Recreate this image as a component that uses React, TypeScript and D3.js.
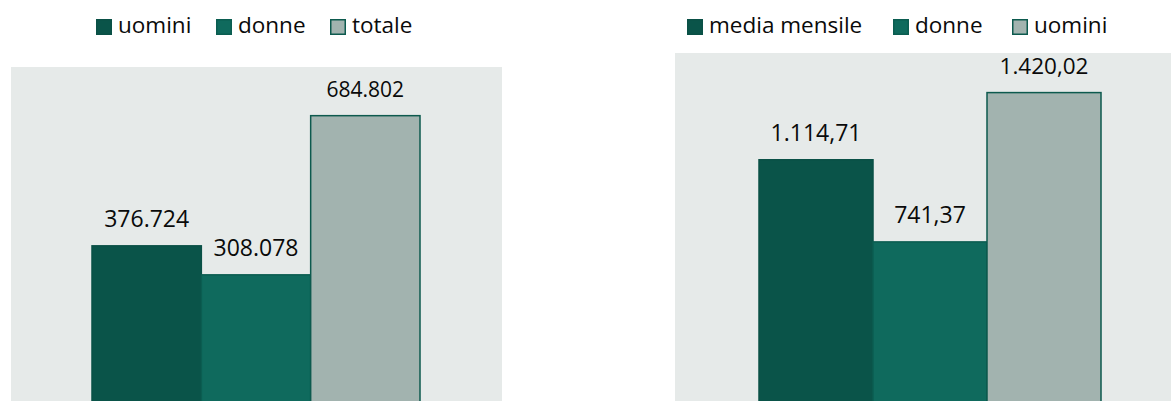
import React from "react";
import * as d3 from "d3";

const leftCategories = ["uomini", "donne", "totale"];
const leftValues = [376724, 308078, 684802];
const leftLabels = ["376.724", "308.078", "684.802"];

const rightCategories = ["media mensile", "donne", "uomini"];
const rightValues = [1114.71, 741.37, 1420.02];
const rightLabels = ["1.114,71", "741,37", "1.420,02"];

const colors = ["#0a5449", "#0f6a5d", "#a2b3af"];
const strokes = ["#0a5046", "#0b5d51", "#0d5a4e"];
const BG = "#e6eae9";
const FONT = "'Open Sans', 'Noto Sans', sans-serif";

type PanelProps = {
  cats: string[];
  vals: number[];
  labels: string[];
  yMax: number;
  plot: { x0: number; x1: number; y0: number; y1: number };
  bars: [number, number];
  legendX: number[];
  labelSizes: number[];
};

function Panel({ cats, vals, labels, yMax, plot, bars, legendX, labelSizes }: PanelProps) {
  const x = d3.scaleBand<string>().domain(cats).range(bars).padding(0);
  const y = d3.scaleLinear().domain([0, yMax]).range([plot.y1, plot.y0]);
  return (
    <g>
      <rect x={plot.x0} y={plot.y0} width={plot.x1 - plot.x0} height={plot.y1 - plot.y0} fill={BG} />
      {cats.map((c, i) => (
        <rect
          key={c}
          x={x(c)!}
          y={y(vals[i])}
          width={x.bandwidth()}
          height={y(0) - y(vals[i])}
          fill={colors[i]}
          stroke={strokes[i]}
          strokeWidth={1.5}
        />
      ))}
      {cats.map((c, i) => (
        <text
          key={"l" + c}
          x={x(c)! + x.bandwidth() / 2}
          y={y(vals[i]) - 19}
          textAnchor="middle"
          fontFamily={FONT}
          fontSize={labelSizes[i]}
          fill="#0a0a0a"
        >
          {labels[i]}
        </text>
      ))}
      {cats.map((c, i) => (
        <g key={"g" + c} transform={`translate(${legendX[i]},0)`}>
          <rect x={0.75} y={19.75} width={14.5} height={14.5} fill={colors[i]} stroke={strokes[i]} strokeWidth={1.5} />
          <text x={22} y={33} fontFamily={FONT} fontSize={22.5} fill="#0a0a0a">
            {c}
          </text>
        </g>
      ))}
    </g>
  );
}

export default function App() {
  return (
    <svg
      width={1173}
      height={401}
      style={{ position: "absolute", left: 0, top: 0, background: "#fff" }}
    >
      <Panel
        cats={leftCategories}
        vals={leftValues}
        labels={leftLabels}
        yMax={800000}
        plot={{ x0: 11, x1: 502, y0: 67, y1: 405 }}
        bars={[92, 420]}
        legendX={[96, 216, 330]}
        labelSizes={[23, 23, 21]}
      />
      <Panel
        cats={rightCategories}
        vals={rightValues}
        labels={rightLabels}
        yMax={1600}
        plot={{ x0: 675, x1: 1171, y0: 53, y1: 405 }}
        bars={[759, 1101]}
        legendX={[687, 893, 1012]}
        labelSizes={[23, 23, 22.5]}
      />
    </svg>
  );
}
